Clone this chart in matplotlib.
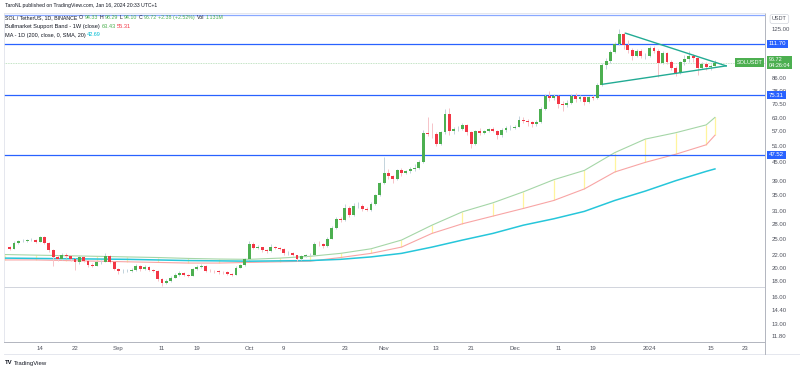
import matplotlib
matplotlib.use('Agg')
import matplotlib.pyplot as plt
import matplotlib.dates as mdates
import matplotlib.transforms as mtransforms
from matplotlib.lines import Line2D
from matplotlib.ticker import NullLocator
import pandas as pd

plt.rcParams['font.family'] = ['Liberation Sans', 'DejaVu Sans']

# daily SOL/USDT candles, Aug 7 2023 -> Jan 16 2024 (open = previous close)
first_open = 23.4
closes = [23.1, 24.2, 24.5, 24.6, 24.7, 24.8, 24.4, 25.2, 24.1, 22.9,
          21.7, 21.4, 22.0, 21.8, 21.3, 20.8, 21.7, 21.05, 20.4, 20.3,
          20.85, 20.9, 21.8, 20.9, 19.8, 19.4, 19.45, 19.5, 19.6, 20.3,
          19.7, 20.1, 19.6, 19.5, 18.3, 17.8, 18.05, 18.5, 18.9, 19.2,
          18.95, 18.8, 19.7, 20.1, 20.3, 19.5, 19.45, 19.4, 19.3, 19.25,
          19.0, 18.95, 20.0, 20.4, 21.4, 24.05, 23.3, 23.35, 22.8, 22.7,
          23.5, 23.2, 23.1, 22.3, 22.35, 22.0, 21.3, 21.9, 22.0, 22.1,
          24.05, 23.9, 23.6, 25.0, 27.1, 29.1, 28.8, 31.6, 30.0, 32.0,
          32.2, 31.4, 31.2, 32.7, 34.8, 38.2, 41.3, 40.3, 39.4, 42.3,
          41.3, 42.0, 42.7, 43.0, 45.0, 56.3, 55.9, 55.7, 51.7, 56.7,
          65.3, 57.2, 57.9, 58.1, 59.9, 56.7, 51.9, 57.2, 56.3, 57.0,
          58.1, 57.2, 55.4, 57.4, 58.4, 58.7, 59.0, 62.4, 61.8, 61.1,
          60.3, 61.1, 67.5, 74.9, 73.5, 74.9, 70.5, 69.8, 71.0, 74.7,
          73.0, 74.0, 71.4, 74.2, 73.6, 81.4, 95.0, 98.0, 105.0, 111.4,
          120.3, 111.0, 106.5, 102.0, 106.0, 101.5, 101.8, 108.5, 106.0, 96.5,
          104.0, 97.5, 93.0, 89.5, 97.0, 99.5, 101.5, 100.0, 92.5, 96.0,
          93.6, 94.34, 96.72]
highs = [23.6, 24.5, 24.8, 24.9, 25.0, 25.1, 25.0, 25.5, 25.4, 24.3,
         23.1, 22.0, 22.3, 22.3, 22.0, 21.5, 22.0, 21.9, 21.2, 20.7,
         21.0, 21.2, 22.4, 22.0, 21.0, 19.9, 19.7, 19.8, 19.9, 20.6,
         20.4, 20.4, 20.2, 19.8, 19.6, 18.4, 18.3, 18.7, 19.2, 19.4,
         19.3, 19.1, 19.9, 20.4, 20.6, 20.4, 19.7, 19.6, 19.6, 19.5,
         19.4, 19.2, 20.2, 20.6, 21.6, 24.5, 24.4, 23.8, 23.5, 23.0,
         23.9, 23.6, 23.4, 23.2, 22.7, 22.5, 22.1, 22.1, 22.2, 22.4,
         24.3, 24.5, 24.2, 25.3, 27.5, 29.6, 29.5, 32.5, 32.0, 32.8,
         33.0, 32.6, 31.8, 33.2, 35.2, 38.6, 46.8, 42.6, 40.8, 42.8,
         42.9, 42.4, 43.3, 44.2, 45.8, 57.5, 63.5, 61.0, 56.5, 57.3,
         67.5, 68.2, 59.0, 59.4, 61.0, 60.3, 57.2, 57.8, 58.7, 57.6,
         58.6, 59.0, 57.5, 58.3, 59.2, 60.0, 60.0, 64.2, 63.6, 62.5,
         61.8, 62.0, 68.5, 76.0, 77.5, 76.2, 75.5, 71.8, 72.5, 75.8,
         76.4, 75.2, 74.8, 75.0, 75.3, 82.5, 96.5, 100.5, 106.8, 113.0,
         125.4, 122.0, 114.8, 108.0, 107.5, 107.3, 104.2, 110.2, 110.0, 107.0,
         106.0, 105.0, 98.5, 94.5, 98.0, 102.5, 106.0, 103.0, 100.5, 97.2,
         96.8, 96.0, 98.29]
lows = [22.9, 23.0, 24.0, 24.3, 24.4, 24.5, 24.2, 24.3, 23.9, 22.6,
        20.2, 21.0, 21.2, 21.5, 21.0, 19.6, 20.6, 20.8, 20.1, 20.1,
        20.2, 20.6, 20.8, 20.7, 19.6, 19.1, 19.2, 19.3, 19.3, 19.5,
        19.5, 19.6, 19.4, 19.3, 18.1, 17.4, 17.6, 17.9, 18.4, 18.8,
        18.8, 18.6, 18.7, 19.6, 20.0, 19.3, 19.3, 19.2, 19.1, 19.1,
        18.9, 18.8, 18.9, 19.9, 20.3, 21.3, 23.0, 23.0, 22.6, 22.4,
        22.6, 23.0, 22.8, 22.0, 22.1, 21.8, 21.1, 21.2, 21.7, 21.8,
        22.0, 23.6, 23.3, 23.5, 24.9, 26.9, 28.3, 28.6, 29.5, 29.8,
        31.6, 30.9, 30.8, 31.0, 32.4, 34.6, 38.0, 39.4, 38.2, 39.1,
        40.5, 40.9, 41.4, 41.9, 42.7, 44.6, 54.8, 54.2, 51.0, 51.3,
        56.0, 55.5, 56.0, 57.0, 57.6, 55.5, 50.1, 51.5, 55.3, 55.8,
        56.5, 56.6, 53.9, 54.5, 56.9, 57.8, 57.9, 58.8, 60.9, 59.5,
        58.8, 59.6, 60.9, 67.0, 72.0, 72.8, 68.3, 66.4, 68.8, 70.5,
        71.3, 72.0, 69.7, 71.0, 72.6, 73.2, 80.9, 92.3, 96.5, 104.0,
        110.5, 107.5, 104.5, 98.5, 100.8, 99.8, 99.6, 101.0, 104.5, 86.5,
        95.5, 96.0, 91.5, 87.5, 88.8, 95.2, 97.0, 96.8, 88.0, 91.8,
        91.0, 91.5, 94.10]
dates = pd.date_range('2023-08-07', periods=len(closes), freq='D')

# Bullmarket support band (weekly) and 200D SMA
week_dates = pd.to_datetime(['2023-08-06', '2023-08-13', '2023-08-20', '2023-08-27', '2023-09-03',
                             '2023-09-10', '2023-09-17', '2023-09-24', '2023-10-01', '2023-10-08',
                             '2023-10-15', '2023-10-22', '2023-10-29', '2023-11-05', '2023-11-12',
                             '2023-11-19', '2023-11-26', '2023-12-03', '2023-12-10', '2023-12-17',
                             '2023-12-24', '2023-12-31', '2024-01-07', '2024-01-14', '2024-01-16'])
band_sma = [22.1, 22.0, 21.9, 21.8, 21.7, 21.6, 21.45, 21.35, 21.3, 21.5,
            21.8, 22.3, 23.1, 24.7, 27.7, 30.7, 32.9, 35.8, 39.3, 42.2,
            48.4, 53.7, 56.4, 59.9, 63.43]
band_ema = [21.2, 21.2, 21.1, 21.0, 20.9, 20.8, 20.7, 20.7, 20.8, 20.9,
            21.0, 21.6, 22.3, 23.4, 26.0, 28.0, 29.7, 31.5, 33.5, 36.6,
            41.7, 44.9, 47.8, 51.4, 55.31]
ma_dates = pd.to_datetime(['2023-08-06', '2023-08-20', '2023-09-03', '2023-09-17', '2023-10-01',
                           '2023-10-15', '2023-10-22', '2023-10-29', '2023-11-05', '2023-11-12',
                           '2023-11-19', '2023-11-26', '2023-12-03', '2023-12-10', '2023-12-17',
                           '2023-12-24', '2023-12-31', '2024-01-07', '2024-01-14', '2024-01-16'])
ma200 = [21.5, 21.4, 21.3, 21.1, 21.0, 21.1, 21.3, 21.7, 22.3, 23.4,
         24.7, 26.0, 27.7, 29.1, 30.8, 33.5, 36.0, 39.0, 41.9, 42.69]

levels = [111.70, 75.31, 47.52]
top_level = 139.5
gray_level = 17.2
last_price = 96.72

# symmetrical triangle drawing
tri_upper = (pd.to_datetime(['2023-12-26 12:00', '2024-01-18 14:00']), [121.2, 94.3])
tri_lower = (pd.to_datetime(['2023-12-21 06:00', '2024-01-18 14:00']), [81.9, 94.3])

price_ticks = [125, 86, 78, 70.5, 63, 57, 51, 45, 39, 35, 31, 28, 25, 22, 20, 18, 16, 14.4, 13, 11.8]
xtick_dates = ['2023-08-14', '2023-08-22', '2023-09-01', '2023-09-11', '2023-09-19', '2023-10-01',
               '2023-10-09', '2023-10-23', '2023-11-01', '2023-11-13', '2023-11-21', '2023-12-01',
               '2023-12-11', '2023-12-19', '2024-01-01', '2024-01-15', '2024-01-23']
xtick_labels = ['14', '22', 'Sep', '11', '19', 'Oct', '9', '23', 'Nov', '13', '21', 'Dec',
                '11', '19', '2024', '15', '23']

UP, DOWN = '#4caf50', '#f23645'
BLUE = '#2962ff'
TXT = '#131722'
AXT = '#50535e'

fig = plt.figure(figsize=(8, 3.7), dpi=100)
ax = fig.add_axes([4 / 800, 1 - 342 / 370, 761 / 800, 329 / 370])
ax.set_yscale('log')

x = mdates.date2num(dates)
opens = [first_open] + closes[:-1]
for xi, o, h, l, c in zip(x, opens, highs, lows, closes):
    col = UP if c >= o else DOWN
    wick = '#c3d3dc' if c >= o else '#f6c3c8'
    ax.vlines(xi, l, h, color=wick, lw=0.7, zorder=3)
    ax.bar(xi, max(abs(c - o), 0.004 * c), bottom=min(o, c), width=0.66,
           color=col, lw=0, zorder=4)

# band + MA
wx = mdates.date2num(week_dates)
ax.vlines(wx, band_ema, band_sma, color='#fff59d', lw=0.9, zorder=1)
ax.plot(wx, band_sma, color='#a5d6a7', lw=0.8, zorder=2)
ax.plot(wx, band_ema, color='#f8a5a5', lw=0.8, zorder=2)
ax.plot(mdates.date2num(ma_dates), ma200, color='#26c6da', lw=1.1, zorder=2)

# horizontal levels
for lv in levels:
    ax.axhline(lv, color=BLUE, lw=0.9, zorder=2)
ax.axhline(top_level, color=BLUE, lw=0.9, alpha=0.55, zorder=2)
ax.axhline(gray_level, color='#d1d4dc', lw=0.7, zorder=1)
ax.axhline(last_price, color=UP, lw=0.6, ls=(0, (1, 1)), alpha=0.45, zorder=1)

for tx, tp in (tri_upper, tri_lower):
    ax.plot(mdates.date2num(tx), tp, color='#22ab94', lw=1.0, zorder=5)

ax.set_xlim(x[0] - 1.3, x[-1] + 11.5)
ax.set_ylim(11.28, 141.6)

# axes styling
for side in ['top', 'left']:
    ax.spines[side].set_color('#e0e3eb')
    ax.spines[side].set_linewidth(0.6)
for side in ['right', 'bottom']:
    ax.spines[side].set_color('#b2b5be')
    ax.spines[side].set_linewidth(0.7)

ax.yaxis.tick_right()
ax.set_yticks(price_ticks)
ax.set_yticklabels([f'{v:.2f}' for v in price_ticks])
ax.yaxis.set_minor_locator(NullLocator())
ax.tick_params(axis='y', length=0, pad=5, labelsize=4.3, labelcolor=AXT)
ax.set_xticks(mdates.date2num(pd.to_datetime(xtick_dates)))
ax.set_xticklabels(xtick_labels)
ax.tick_params(axis='x', length=0, pad=3, labelsize=4.3, labelcolor=AXT)

# price-scale labels
trans = mtransforms.blended_transform_factory(ax.transAxes, ax.transData)
for lv in levels:
    ax.text(1.005, lv, f'{lv:.2f}', transform=trans, ha='left', va='center', fontsize=4.3,
            color='white', zorder=10, clip_on=False,
            bbox=dict(boxstyle='square,pad=0.3', fc=BLUE, ec='none'))
ax.text(1.005, last_price, f'{last_price:.2f}\n04:26:04', transform=trans, ha='left', va='center',
        fontsize=4.0, color='white', linespacing=1.1, zorder=10, clip_on=False,
        bbox=dict(boxstyle='square,pad=0.3', fc=UP, ec='none'))
ax.text(0.997, last_price, 'SOLUSDT', transform=trans, ha='right', va='center', fontsize=4.0,
        color='white', zorder=10, bbox=dict(boxstyle='square,pad=0.3', fc=UP, ec='none'))
fig.text(772 / 800, 1 - 19 / 370, 'USDT', fontsize=4.0, color=AXT, ha='left', va='center',
         bbox=dict(boxstyle='round,pad=0.35', fc='white', ec='#d1d4dc', lw=0.5))

# frame of the x-axis row
fig.add_artist(Line2D([4 / 800, 1], [1 - 354 / 370] * 2, color='#e0e3eb', lw=0.6))
fig.add_artist(Line2D([765 / 800] * 2, [1 - 354 / 370, 1 - 342 / 370], color='#b2b5be', lw=0.7))

renderer = fig.canvas.get_renderer()


def text_row(x0, y0, parts, size, gap=1.5):
    xx = x0
    for s, col, w in parts:
        t = fig.text(xx, y0, s, color=col, fontsize=size, ha='left', va='center', fontweight=w)
        bb = t.get_window_extent(renderer=renderer)
        xx += (bb.width + gap) / fig.bbox.width


fig.text(5 / 800, 1 - 6 / 370, 'TaroNL published on TradingView.com, Jan 16, 2024 20:33 UTC+1',
         fontsize=3.7, color=TXT, ha='left', va='center')
n = 'normal'
text_row(5 / 800, 1 - 17.5 / 370,
         [('SOL / TetherUS, 1D, BINANCE', TXT, n), ('O', TXT, n), ('94.33', UP, n), ('H', TXT, n),
          ('98.29', UP, n), ('L', TXT, n), ('94.10', UP, n), ('C', TXT, n), ('96.72', UP, n),
          ('+2.38 (+2.52%)', UP, n), ('Vol', TXT, n), ('1.131M', UP, n)], 3.8)
text_row(5 / 800, 1 - 26.5 / 370,
         [('Bullmarket Support Band - 1W (close)', TXT, n), ('63.43', UP, n), ('55.31', DOWN, n)], 4.1)
text_row(5 / 800, 1 - 35 / 370,
         [('MA - 1D (200, close, 0, SMA, 20)', TXT, n), ('42.69', '#00bcd4', n)], 4.0)
text_row(5 / 800, 1 - 363 / 370, [('TV', TXT, 'bold'), ('TradingView', TXT, n)], 4.3, gap=1.0)

fig.savefig('out.png', dpi=100)
